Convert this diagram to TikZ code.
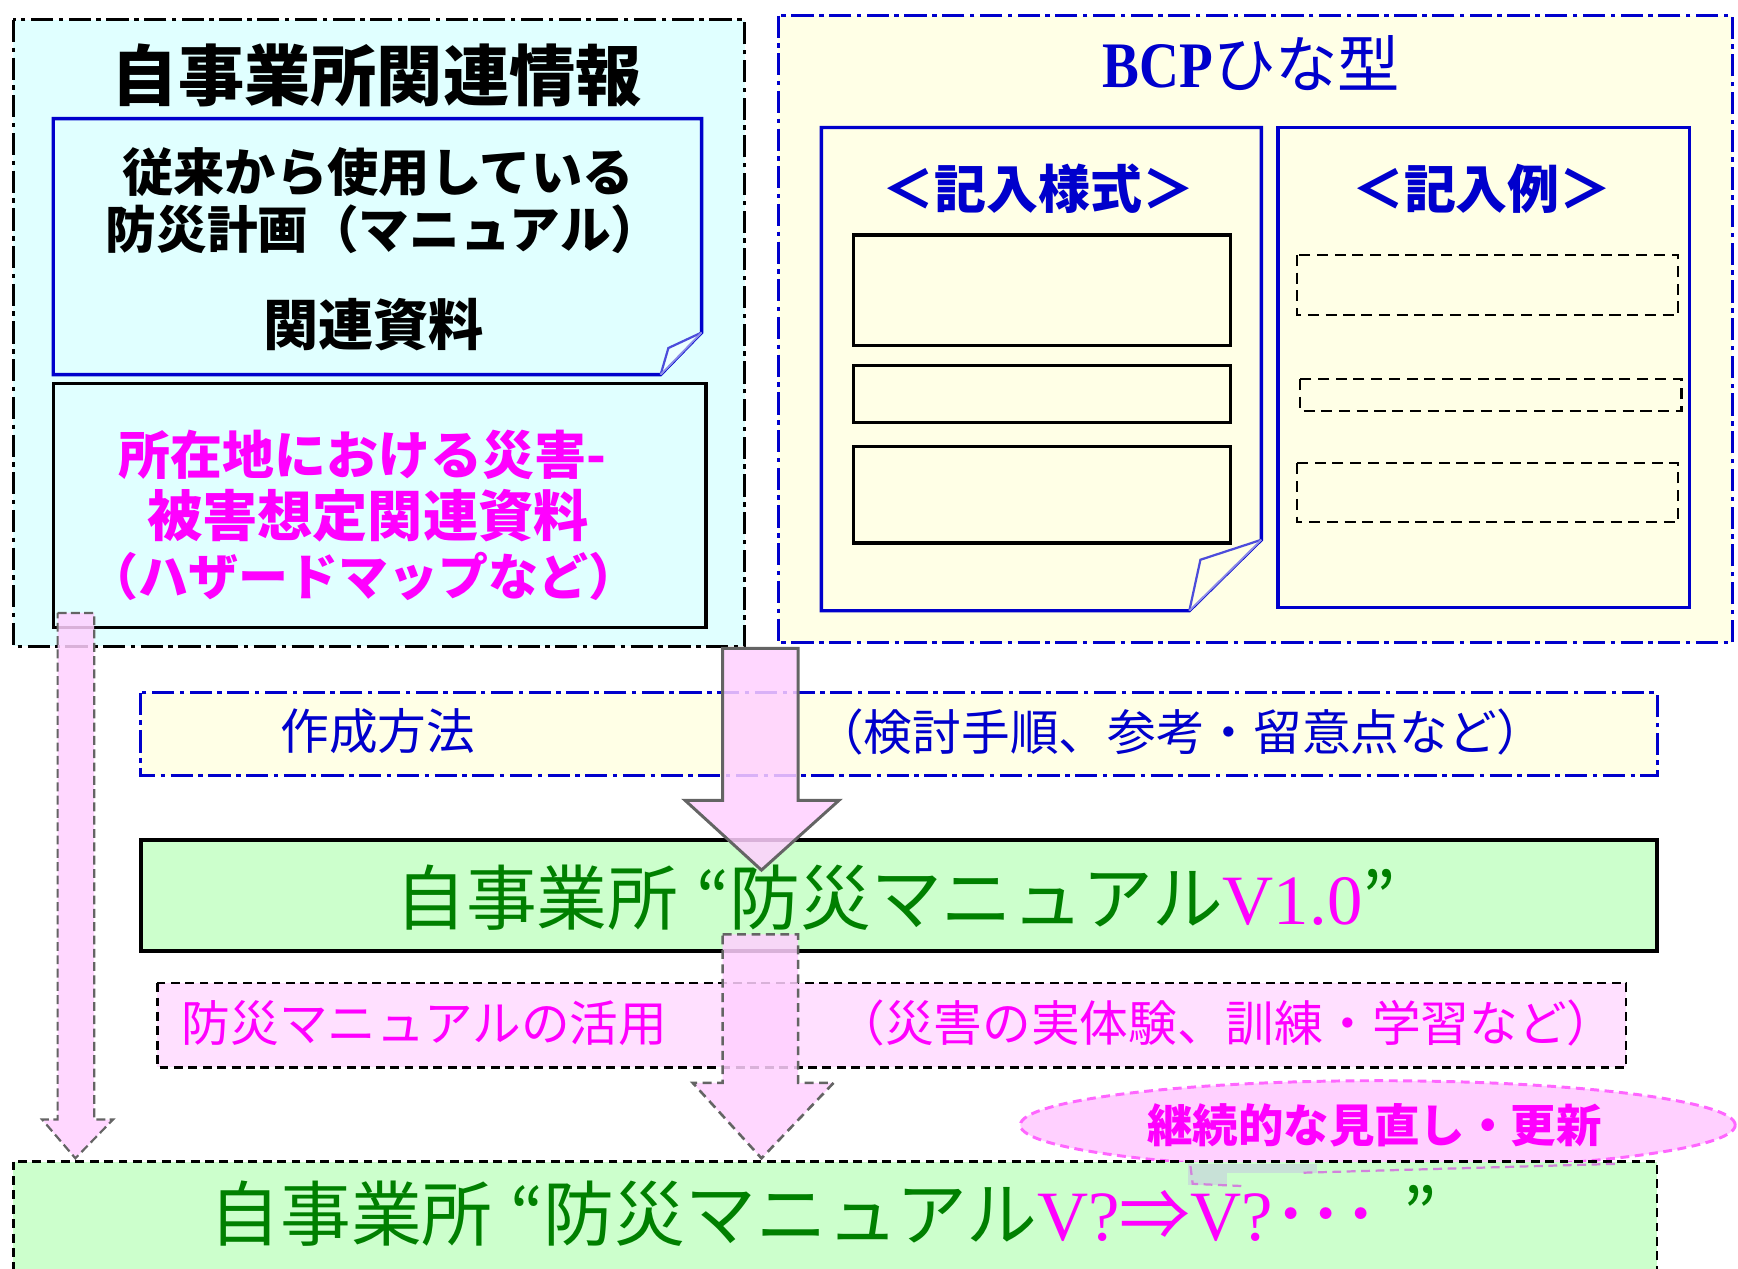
\documentclass[tikz,border=0pt]{standalone}
\usepackage{fontspec}
\setmainfont{Liberation Serif}
\newfontfamily\jp{Noto Sans CJK JP}
\newfontfamily\lser{Liberation Serif}
\usetikzlibrary{shapes.geometric}
\definecolor{cyanbg}{RGB}{224,255,255}
\definecolor{yellowbg}{RGB}{255,255,230}
\definecolor{greenbg}{RGB}{204,255,204}
\definecolor{pinkbg}{RGB}{255,224,255}
\definecolor{pinkfill}{RGB}{255,208,255}
\definecolor{dblue}{RGB}{0,0,204}
\definecolor{mag}{RGB}{255,0,255}
\definecolor{dgreen}{RGB}{0,128,0}
\definecolor{agray}{RGB}{100,100,100}
\definecolor{shadowgc}{RGB}{200,225,215}
\definecolor{shadowmag}{RGB}{210,130,220}
\tikzset{
  jsize/.style={font={\jp\fontsize{#1}{#1}\selectfont}},
  jbsize/.style={font={\jp\bfseries\fontsize{#1}{#1}\selectfont}},
  txt/.style={inner sep=0pt, anchor=center},
  dashdot/.style={dash pattern=on 6mm off 1.5mm on 1.2mm off 1.5mm},
  outerbox/.style={line width=0.8mm, dashdot},
  docline/.style={draw=dblue, line width=0.9mm},
  plainbox/.style={draw=black, line width=0.9mm},
  dashbox/.style={draw=black, line width=0.7mm, dash pattern=on 2.4mm off 1.5mm},
  exbox/.style={draw=black, line width=0.6mm, dash pattern=on 3mm off 1.8mm},
  foldline/.style={draw=dblue!70, line width=0.6mm, fill=white},
  arrowbody/.style={fill=pinkfill, fill opacity=0.85, line width=0.8mm, line join=miter},
  shadowdash/.style={draw=shadowmag, line width=0.6mm, dash pattern=on 2.4mm off 1.5mm},
}
\begin{document}
\begin{tikzpicture}[x=0.3mm,y=-0.3mm]
\useasboundingbox (0,0) rectangle (1568,1144);
\clip (0,0) rectangle (1568,1144);

% ---------- left outer box ----------
\draw[outerbox, draw=black, fill=cyanbg] (12,18) rectangle (672,583);
\node[txt, jbsize=51pt] (t1) at (340,68) {自事業所関連情報};
% document with folded corner
\draw[docline, fill=cyanbg] (48,107) -- (633,107) -- (633,300) -- (596,338) -- (48,338) -- cycle;
\draw[foldline, fill=cyanbg!60!white] (633,300) -- (603,314) -- (596,338);
\draw[dblue!45, line width=0.5mm] (633,300) -- (596,338);
\node[txt, jbsize=39.5pt] (d1a) at (341,155) {従来から使用している};
\node[txt, jbsize=39pt] (d1b) at (346,207) {防災計画（マニュアル）};
\node[txt, jbsize=42.5pt] (d1c) at (337,293) {関連資料};
% hazard box
\draw[plainbox, fill=cyanbg] (48,346) rectangle (637,566);
\node[txt, jbsize=40pt, text=mag] (h1) at (327,410) {所在地における災害-};
\node[txt, jbsize=42.5pt, text=mag] (h2) at (332,465) {被害想定関連資料};
\node[txt, jbsize=38.5pt, text=mag] (h3) at (328,520) {（ハザードマップなど）};

% ---------- right outer box ----------
\draw[outerbox, draw=dblue, fill=yellowbg] (702,14) rectangle (1563,580);
\node[txt, text=dblue] (t2) at (1129,57) {\scalebox{0.85}[1]{\lser\bfseries\fontsize{50pt}{50pt}\selectfont BCP}{\jp\fontsize{48pt}{48pt}\selectfont ひな型}};
% form document
\draw[docline, fill=yellowbg] (741,115) -- (1138,115) -- (1138,487) -- (1073,551) -- (741,551) -- cycle;
\draw[foldline, fill=yellowbg] (1138,487) -- (1083,505) -- (1073,551);
\draw[dblue!45, line width=0.5mm] (1138,487) -- (1073,551);
\node[txt, jbsize=40pt, text=dblue] (f0) at (937,170) {＜記入様式＞};
\draw[plainbox] (770,212) rectangle (1110,312);
\draw[plainbox] (770,330) rectangle (1110,381);
\draw[plainbox] (770,403) rectangle (1110,490);
% example panel
\draw[docline, fill=yellowbg] (1153,115) rectangle (1524,548);
\node[txt, jbsize=40pt, text=dblue] (e0) at (1337,170) {＜記入例＞};
\draw[exbox] (1170,230) rectangle (1514,284);
\draw[exbox] (1173,342) rectangle (1517,371);
\draw[exbox] (1170,418) rectangle (1514,471);

% ---------- method band ----------
\draw[line width=0.8mm, draw=dblue, dashdot, fill=yellowbg] (127,625) rectangle (1495,700);
\node[txt, jsize=37.5pt, text=dblue] (m1) at (341,660) {作成方法};
\node[txt, jsize=37.5pt, text=dblue] (m2) at (1065,660) {（検討手順、参考・留意点など）};

% ---------- V1.0 box ----------
\draw[line width=1.1mm, draw=black, fill=greenbg] (127,758) rectangle (1495,858);
\node[txt, jsize=54.5pt, text=dgreen] (v1) at (808,810) {自事業所\hspace{0.25em}“防災マニュアル{\lser\color{mag}V1.0}”};

% ---------- usage band ----------
\draw[dashbox, fill=pinkbg] (142,887) rectangle (1467,963);
\node[txt, jsize=37.5pt, text=mag] (u1) at (383,923) {防災マニュアルの活用};
\node[txt, jsize=37.5pt, text=mag] (u2) at (1106,923) {（災害の実体験、訓練・学習など）};

% ---------- review ellipse ----------
\node[ellipse, draw=mag!60, fill=pinkfill, line width=0.8mm, dash pattern=on 2.4mm off 1.5mm,
      minimum width=193.5mm, minimum height=24mm, inner sep=0pt] (ell) at (1243,1015) {};
\node[txt, jbsize=35pt, text=mag] (ellt) at (1240,1015) {継続的な見直し・更新};

% ---------- bottom box ----------
\draw[dashbox, fill=greenbg] (12,1048) rectangle (1495,1170);
\fill[shadowgc] (1072,1050) rectangle (1188,1058);
\fill[shadowgc] (1072,1050) rectangle (1107,1069);
\draw[shadowdash] (1074,1052) -- (1076,1068) -- (1120,1070);
\draw[shadowdash] (1176,1058) -- (1458,1050);
\node[txt, jsize=54.5pt, text=dgreen] (v2) at (743,1095) {自事業所\hspace{0.25em}“防災マニュアル{\lser\color{mag}V?}{\color{mag}⇒}{\lser\color{mag}V?}{\color{mag}･･･}\hspace{0.35em}”};

% ---------- arrows ----------
\coordinate (a0top) at (68,553);
\coordinate (a0tip) at (68,1045);
\coordinate (a1top) at (686,585);
\coordinate (a1tip) at (687,785);
\coordinate (a2top) at (686,843);
\coordinate (a2tip) at (687,1045);

\draw[arrowbody, draw=agray, line width=0.6mm, dash pattern=on 2.4mm off 1.2mm]
  (a0top) ++(-16,0) -- ++(33,0) -- ++(0,457) -- ++(17,0) -- (a0tip) -- ++(-30,-35) -- ++(14,0) -- cycle;
\draw[arrowbody, draw=agray]
  (a1top) ++(-34,0) -- ++(68,0) -- ++(0,137) -- ++(37,0) -- (a1tip) -- ++(-69,-63) -- ++(34,0) -- cycle;
\draw[arrowbody, draw=agray, line width=0.7mm, dash pattern=on 2.4mm off 1.5mm]
  (a2top) ++(-34,0) -- ++(68,0) -- ++(0,134) -- ++(32,0) -- (a2tip) -- ++(-62,-68) -- ++(27,0) -- cycle;
\end{tikzpicture}
\end{document}
